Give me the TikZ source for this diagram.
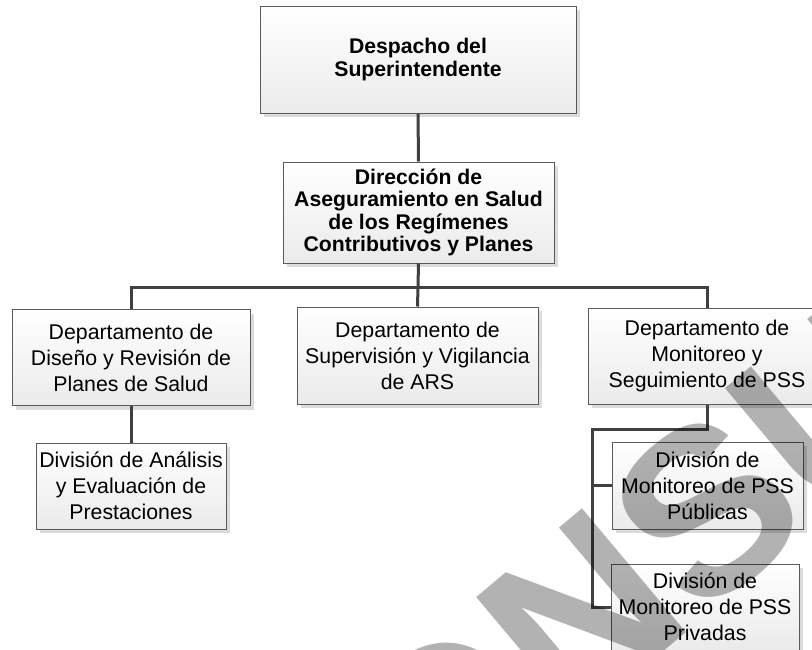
\documentclass[tikz,border=0pt]{standalone}
\usepackage{fontspec}
\setmainfont{Liberation Sans}
\usetikzlibrary{shadows}
\definecolor{boxline}{HTML}{5A5A5A}
\definecolor{conn}{HTML}{404040}
\begin{document}
\begin{tikzpicture}[x=1pt,y=-1pt,
  orgbox/.style={draw=boxline, line width=1pt, top color=white, bottom color=black!8,
    general shadow={fill=black!14, shadow xshift=4pt, shadow yshift=-4pt},
    align=center, inner sep=0pt},
  regtext/.style={font=\fontsize{21.3}{26}\selectfont},
  boldtext/.style={font=\fontsize{21.2}{22.2}\selectfont\bfseries},
  link/.style={draw=conn, line width=3pt}]
\useasboundingbox (0,0) rectangle (812,649);
\clip (0,0) rectangle (812,649);
\fill[white] (0,0) rectangle (812,649);

% boxes
\node[orgbox, boldtext, minimum width=316pt, minimum height=107pt] (A) at (418,59.5) {Despacho del\\Superintendente};
\node[orgbox, boldtext, minimum width=271pt, minimum height=101pt] (B) at (418.5,212.5) {Dirección de\\Aseguramiento en Salud\\de los Regímenes\\Contributivos y Planes};
\node[orgbox, regtext, minimum width=238pt, minimum height=96pt] (C1) at (131,357.5) {Departamento de\\Diseño y Revisión de\\Planes de Salud};
\node[orgbox, regtext, minimum width=241pt, minimum height=97pt] (C2) at (417.5,355.5) {Departamento de\\Supervisión y Vigilancia\\de ARS};
\node[orgbox, regtext, minimum width=238pt, minimum height=96pt] (C3) at (707,356) {Departamento de\\Monitoreo y\\Seguimiento de PSS};
\node[orgbox, regtext, minimum width=190pt, minimum height=86pt] (D1) at (131,486) {División de Análisis\\y Evaluación de\\Prestaciones};
\node[orgbox, regtext, minimum width=191pt, minimum height=87pt] (D2) at (707.5,485.5) {División de\\Monitoreo de PSS\\Públicas};
\node[orgbox, regtext, minimum width=188pt, minimum height=86pt] (D3) at (705,607) {División de\\Monitoreo de PSS\\Privadas};

% connectors
\coordinate (busB) at (418,287);
\coordinate (m1) at (707,429);
\coordinate (m2) at (592,429);
\draw[link] (A.south) -- (B.north);
\draw[link] (B.south) -- (busB);
\draw[link] (C1.north) |- (busB) -| (C3.north);
\draw[link] (busB) -- (C2.north);
\draw[link] (C1.south) -- (D1.north);
\draw[link] (C3.south) -- (m1) -- (m2) |- (D3.west);
\draw[link] (m2 |- D2.west) -- (D2.west);

% watermark
\node[font=\fontsize{235}{235}\selectfont\bfseries, text=black, text opacity=0.3, rotate=40, inner sep=0pt] (wm) at (733,488) {CONSULTA};
\end{tikzpicture}
\end{document}
